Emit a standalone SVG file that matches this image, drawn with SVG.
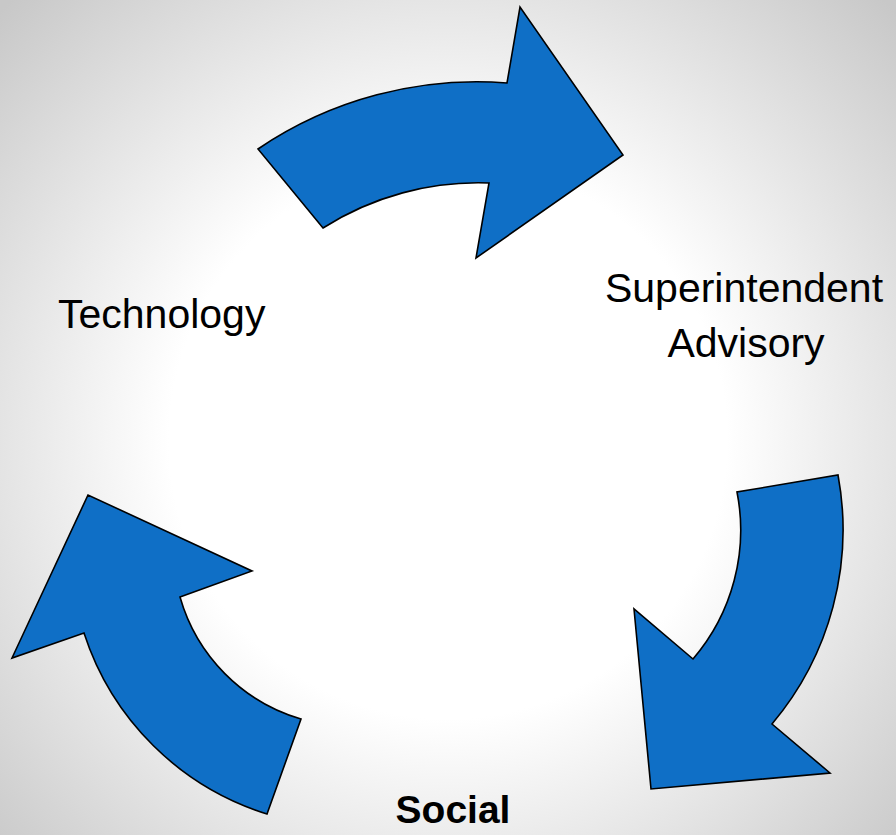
<svg xmlns="http://www.w3.org/2000/svg" width="896" height="835" viewBox="0 0 896 835">
  <defs>
    <radialGradient id="bg" gradientUnits="userSpaceOnUse" cx="448" cy="440" r="620">
      <stop offset="0" stop-color="#ffffff"/>
      <stop offset="0.45" stop-color="#ffffff"/>
      <stop offset="1" stop-color="#c8c8c8"/>
    </radialGradient>
    <style>
      .arrow { fill: #0F6FC6; stroke: #000000; stroke-width: 1.6; stroke-linejoin: miter; }
      .label { font-family: "Liberation Sans", Arial, sans-serif; font-size: 41px; fill: #000000; }
      .bold { font-weight: bold; font-size: 39px; }
    </style>
  </defs>

  <rect x="0" y="0" width="896" height="835" fill="url(#bg)"/>

  <!-- curved arrows forming the cycle -->
  <g id="connectors">
    <path id="arrow-top" class="arrow"
      d="M 258,149 A 390 390 0 0 1 507,83 L 520,7 L 623,155 L 476,258 L 489,183 A 289 289 0 0 0 323,228 Z"/>
    <path id="arrow-right" class="arrow"
      d="M 838,475 A 301 301 0 0 1 772,724 L 830,773 L 651,789 L 634,609 L 693,659 A 198 198 0 0 0 737,492 Z"/>
    <path id="arrow-left" class="arrow"
      d="M 267,814 A 280 280 0 0 1 84,633 L 12,658 L 88,495 L 252,571 L 180,597 A 178 178 0 0 0 301,719 Z"/>
  </g>

  <g id="node-technology">
    <text class="label" x="58" y="328">Technology</text>
  </g>

  <g id="node-superintendent">
    <text class="label" x="744" y="302" text-anchor="middle">Superintendent</text>
    <text class="label" x="746" y="357" text-anchor="middle">Advisory</text>
  </g>

  <g id="node-social">
    <text class="label bold" x="453" y="823" text-anchor="middle">Social</text>
  </g>
</svg>
